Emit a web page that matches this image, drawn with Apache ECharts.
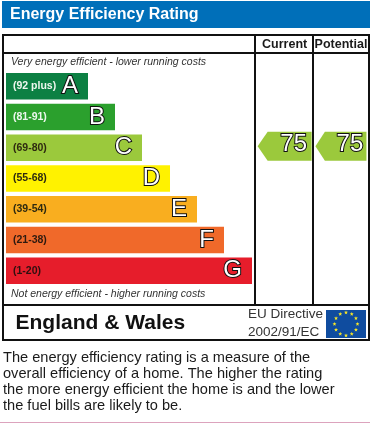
<!DOCTYPE html>
<html>
<head>
<meta charset="utf-8">
<style>html,body{margin:0;padding:0;background:#fff}#c{width:370px;height:423px}</style>
<script src="https://cdn.jsdelivr.net/npm/echarts@6/dist/echarts.min.js"></script>
</head>
<body>
<div id="c"></div>
<script>
const bands = ['A', 'B', 'C', 'D', 'E', 'F', 'G'];
const ranges = ['(92 plus)', '(81-91)', '(69-80)', '(55-68)', '(39-54)', '(21-38)', '(1-20)'];
const barLengths = [82, 109, 136, 164, 191, 218, 246];
const barColors = ['#0c8043', '#2ba02d', '#9bc93c', '#fff200', '#f9ae1f', '#f0692a', '#e61d2b'];
const rangeColors = ['#eef7ee', '#eef7ee', '#2e2a10', '#2e2a10', '#2e2a10', '#2e1a10', '#2e1010'];
const columns = ['Current', 'Potential'];
const ratings = [75, 75];
const ratingBand = 'C';
const paragraph = [
  'The energy efficiency rating is a measure of the',
  'overall efficiency of a home. The higher the rating',
  'the more energy efficient the home is and the lower',
  'the fuel bills are likely to be.'
];
const FONT = '"Liberation Sans", Arial, sans-serif';
const chart = echarts.init(document.getElementById('c'), null, {renderer: 'canvas'});

const line = (x1, y1, x2, y2, color, w) => ({type: 'line', z: 1, silent: true,
  shape: {x1, y1, x2, y2}, style: {stroke: color || '#111', lineWidth: w || 2}});
const txt = (x, y, text, fontSize, extra) => ({type: 'text', z: 5, silent: true, x, y,
  style: Object.assign({text, fontSize, fontFamily: FONT, fill: '#1a1a1a', textVerticalAlign: 'middle', textBaseline: 'middle'}, extra || {})});

const stars = [];
for (let i = 0; i < 12; i++) {
  const a = i * Math.PI / 6, cx = 346 + 11.5 * Math.sin(a), cy = 324 - 11.5 * Math.cos(a), pts = [];
  for (let k = 0; k < 10; k++) {
    const r = k % 2 ? 0.9 : 2.1, b = k * Math.PI / 5;
    pts.push([cx + r * Math.sin(b), cy - r * Math.cos(b)]);
  }
  stars.push({type: 'polygon', z: 4, silent: true, shape: {points: pts}, style: {fill: '#f7e628'}});
}

chart.setOption({
  animation: false,
  backgroundColor: '#fff',
  title: {text: 'Energy Efficiency Rating', left: 5, top: 2,
    textStyle: {color: '#fff', fontSize: 16, fontWeight: 'bold', fontFamily: FONT}},
  grid: [
    {left: 6, top: 71, width: 246, height: 215},
    {left: 256.5, top: 71, width: 114, height: 215}
  ],
  xAxis: [
    {gridIndex: 0, type: 'value', min: 0, max: 246, show: false},
    {gridIndex: 1, type: 'category', data: columns, position: 'top',
      axisLine: {show: false}, axisTick: {show: false},
      axisLabel: {interval: 0, hideOverlap: false, margin: 20, color: '#1a1a1a', fontSize: 12.5, fontWeight: 'bold', fontFamily: FONT}}
  ],
  yAxis: [
    {gridIndex: 0, type: 'category', data: bands, inverse: true, show: false},
    {gridIndex: 1, type: 'category', data: bands, inverse: true, show: false}
  ],
  series: [
    {type: 'bar', xAxisIndex: 0, yAxisIndex: 0, barWidth: 26.5, z: 3,
      data: barLengths.map((v, i) => ({value: v, itemStyle: {color: barColors[i]},
        label: {show: true, position: 'insideLeft', distance: 7, formatter: ranges[i],
          color: rangeColors[i], fontSize: 10.5, fontWeight: 'bold', fontFamily: FONT}}))},
    {type: 'bar', xAxisIndex: 0, yAxisIndex: 0, barWidth: 26.5, barGap: '-100%', z: 4,
      itemStyle: {color: 'rgba(0,0,0,0)'},
      data: barLengths,
      label: {show: true, position: 'insideRight', distance: 10,
        formatter: p => bands[p.dataIndex],
        color: '#fff', textBorderColor: '#111', textBorderWidth: 2,
        fontSize: 24, fontFamily: FONT}},
    {type: 'scatter', xAxisIndex: 1, yAxisIndex: 1, z: 4,
      symbol: 'path://M10,0 L54,0 L54,29 L10,29 L0,14.5 Z',
      symbolOffset: [0, -1.5],
      itemStyle: {color: barColors[2], opacity: 1},
      data: columns.map((c, i) => ({value: [c, ratingBand, ratings[i]],
        symbolSize: [i === 0 ? 54 : 51, 29]})),
      label: {show: true, position: 'inside', offset: [9, -1.5],
        formatter: p => String(p.value[2]),
        color: '#fff', textBorderColor: '#111', textBorderWidth: 2,
        fontSize: 24, fontFamily: FONT}}
  ],
  graphic: [
    {type: 'rect', z: 0, silent: true, shape: {x: 2, y: 1, width: 368, height: 27}, style: {fill: '#006fb9'}},
    {type: 'rect', z: 1, silent: true, shape: {x: 3, y: 35, width: 366, height: 305}, style: {fill: 'none', stroke: '#111', lineWidth: 2}},
    line(3, 53, 369, 53),
    line(3, 305, 369, 305),
    line(255, 35, 255, 305),
    line(313, 35, 313, 305),
    txt(11, 62, 'Very energy efficient - lower running costs', 10.5, {fontStyle: 'italic', fill: '#333'}),
    txt(11, 294, 'Not energy efficient - higher running costs', 10.5, {fontStyle: 'italic', fill: '#333'}),
    txt(15.5, 323, 'England & Wales', 21, {fontWeight: 'bold', fill: '#111'}),
    txt(248, 314.5, 'EU Directive', 13.5, {fill: '#333'}),
    txt(248, 332, '2002/91/EC', 13.5, {fill: '#333'}),
    {type: 'rect', z: 3, silent: true, shape: {x: 326, y: 310, width: 40, height: 28}, style: {fill: '#0f4c9f'}},
    ...stars,
    ...paragraph.map((t, i) => txt(3, 358 + i * 16, t, 14.6, {fill: '#1a1a1a'})),
    line(0, 422.5, 370, 422.5, '#dca3bd', 1)
  ]
});
</script>
</body>
</html>
